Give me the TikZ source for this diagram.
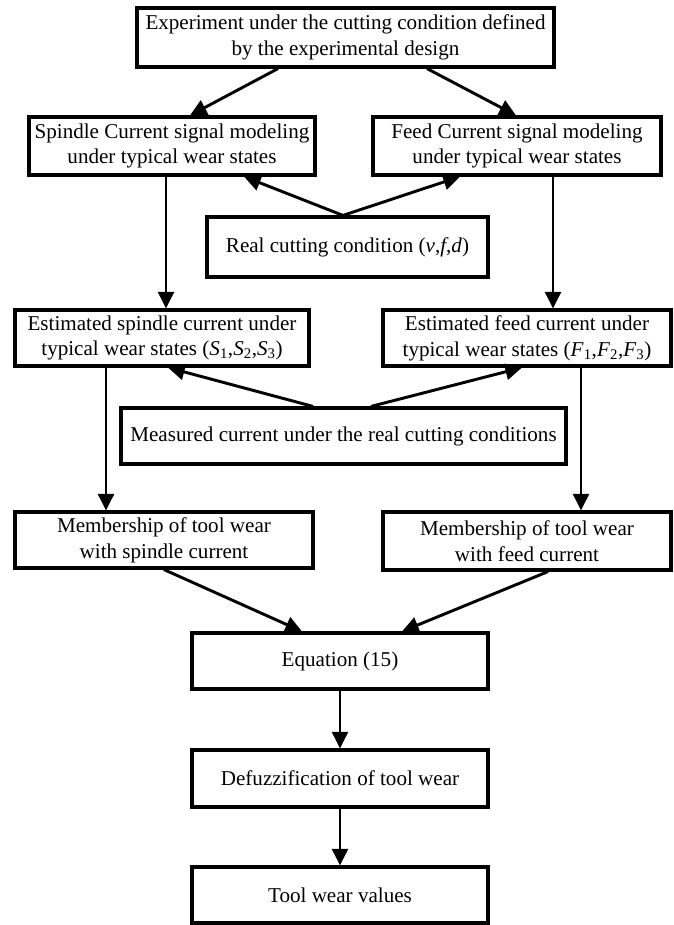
\documentclass[tikz,border=0pt]{standalone}
\usepackage{fontspec}
\setmainfont{Liberation Serif}
\usetikzlibrary{arrows.meta,calc}
\tikzset{
    block/.style = {draw, rectangle, line width=2.7pt, align=center,
        inner sep=0pt,
        minimum height=1.68cm,
        minimum width=8.88cm},
    arrow/.style={draw, line width=2.5pt, -{Triangle[length=0.5cm,width=0.48cm]}}
}

\begin{document}
\begin{tikzpicture}[x=0.03cm,y=-0.03cm,font=\fontsize{18}{22}\selectfont]
        \useasboundingbox (0,0) rectangle (674,925);
        % modeling from the designed experiment
        \node[block, minimum width=12.51cm, minimum height=1.77cm] (exper) at (345.5,37.5) {Experiment under the cutting condition defined\\by the experimental design};
        \node[block, minimum width=8.58cm, minimum height=1.74cm] (smodel) at (172,146) {Spindle Current signal modeling\\under typical wear states};
        \node[block, minimum width=8.64cm, minimum height=1.74cm] (fmodel) at (517,146) {Feed Current signal modeling\\under typical wear states};
        \node[block, minimum width=8.43cm, minimum height=1.8cm] (real) at (347.5,247) {Real cutting condition (\textit{v},\textit{f},\textit{d})};
        % estimation under real conditions
        \node[block, minimum width=8.82cm] (sest) at (162,338) {Estimated spindle current under\\typical wear states (\textit{S}\textsubscript{1},\textit{S}\textsubscript{2},\textit{S}\textsubscript{3})};
        \node[block, minimum width=8.64cm] (fest) at (527,338) {Estimated feed current under\\typical wear states (\textit{F}\textsubscript{1},\textit{F}\textsubscript{2},\textit{F}\textsubscript{3})};
        \node[block, minimum width=13.35cm] (meas) at (343.5,436) {Measured current under the real cutting conditions};
        \node[block, minimum width=8.94cm] (msp) at (164,540) {Membership of tool wear\\with spindle current};
        \node[block, minimum width=8.64cm, minimum height=1.74cm] (mfe) at (527,541) {Membership of tool wear\\with feed current};
        % fusion and output
        \node[block] (eq) at (340,661) {Equation (15)};
        \node[block, minimum height=1.71cm] (defuz) at (340,778.5) {Defuzzification of tool wear};
        \node[block] (wear) at (340,895) {Tool wear values};

        \draw[arrow] ($(exper.south)+(-67.5,0)$) -- ($(smodel.north)+(18,0)$);
        \draw[arrow] ($(exper.south)+(81.5,0)$) -- ($(fmodel.north)+(-1,0)$);
        \draw[arrow] ($(real.north)+(-4.5,0)$) -- ($(smodel.south)+(72,0)$);
        \draw[arrow] ($(real.north)+(-4.5,0)$) -- ($(fmodel.south)+(-57,0)$);
        \draw[arrow] ($(smodel.south)+(-6,0)$) -- ($(sest.north)+(4,0)$);
        \draw[arrow] ($(fmodel.south)+(36,0)$) -- ($(fest.north)+(26,0)$);
        \draw[arrow] ($(meas.north)+(-30.5,0)$) -- ($(sest.south)+(6,0)$);
        \draw[arrow] ($(meas.north)+(27.5,0)$) -- ($(fest.south)+(-5,0)$);
        \draw[arrow] ($(sest.south)+(-56,0)$) -- ($(msp.north)+(-58,0)$);
        \draw[arrow] ($(fest.south)+(54,0)$) -- ($(mfe.north)+(54,0)$);
        \draw[arrow] (msp.south) -- ($(eq.north)+(-38,0)$);
        \draw[arrow] ($(mfe.south)+(21,0)$) -- ($(eq.north)+(62,0)$);
        \draw[arrow] (eq) -- (defuz);
        \draw[arrow] (defuz) -- (wear);
\end{tikzpicture}
\end{document}
